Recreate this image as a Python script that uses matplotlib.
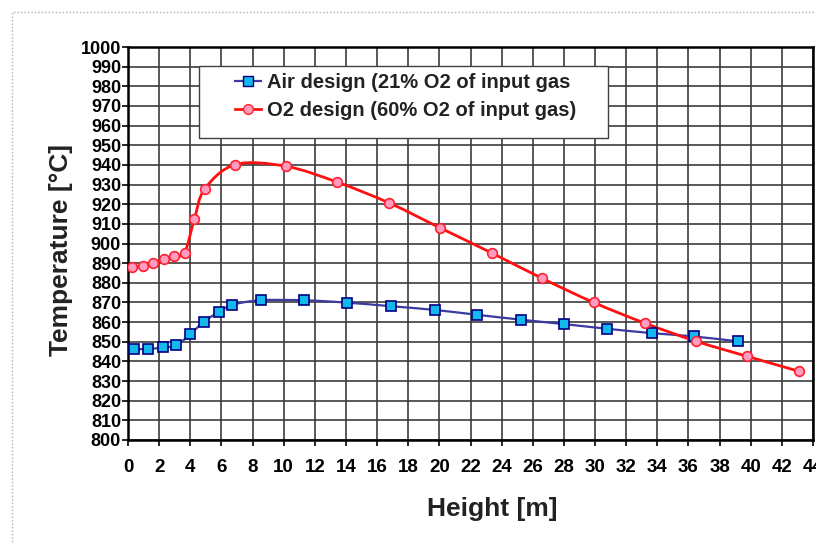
import matplotlib
matplotlib.use("Agg")
import matplotlib.pyplot as plt
from matplotlib.path import Path
from matplotlib.patches import PathPatch, Rectangle
from matplotlib.lines import Line2D
import numpy as np

# datos
air_x = [0.41, 1.28, 2.25, 3.11, 4.01, 4.88, 5.83, 6.71, 8.52, 11.33, 14.07,
         16.87, 19.69, 22.44, 25.27, 27.98, 30.79, 33.63, 36.35, 39.18]
air_y = [846.3, 846.3, 847.1, 848.2, 853.9, 860.3, 865.1, 868.8, 871.1, 871.1, 869.9,
         868.1, 866.2, 863.7, 861.2, 859.0, 856.6, 854.4, 852.7, 850.2]

o2_x = [0.26, 0.96, 1.61, 2.29, 2.95, 3.64, 4.26, 4.93, 6.9, 10.15, 13.45,
        16.79, 20.06, 23.36, 26.59, 29.91, 33.19, 36.51, 39.76, 43.08]
o2_y = [887.8, 888.5, 889.9, 892.1, 893.6, 895.4, 912.3, 927.8, 940.2, 939.3, 931.2,
        920.6, 907.9, 895.2, 882.3, 870.0, 859.5, 850.2, 842.6, 835.0]

air_label = "Air design (21% O2 of input gas"
o2_label = "O2 design (60% O2 of input gas)"

x_ticks = list(range(0, 46, 2))
y_ticks = list(range(800, 1010, 10))

plt.rcParams['font.family'] = ['Liberation Sans', 'DejaVu Sans']
plt.rcParams['font.weight'] = 'bold'

W, H = 816, 543


def linea_suave(x, y):
    # curva tipo Excel (Catmull-Rom pasada a Bezier)
    pts = np.column_stack([x, y])
    n = len(pts)
    verts = [pts[0]]
    codes = [Path.MOVETO]
    for i in range(n - 1):
        p0 = pts[i - 1] if i > 0 else pts[i]
        p1 = pts[i]
        p2 = pts[i + 1]
        p3 = pts[i + 2] if i + 2 < n else pts[i + 1]
        c1 = p1 + (p2 - p0) / 6.0
        c2 = p2 - (p3 - p1) / 6.0
        verts += [c1, c2, p2]
        codes += [Path.CURVE4] * 3
    return Path(verts, codes)


fig = plt.figure(figsize=(W / 100, H / 100), dpi=100)
ax = fig.add_axes([128 / W, 1 - 440 / H, (813 - 128) / W, (440 - 47) / H])

# borde punteado de la figura
fig.patches.append(Rectangle((12 / W, -0.1), 1.2, 1 - 12 / H + 0.1,
                             transform=fig.transFigure, fill=False,
                             ls=(0, (1, 1.5)), lw=1, ec='#b0b0b0'))

ax.add_patch(PathPatch(linea_suave(air_x, air_y), fill=False, ec='#3a3aa0', lw=1.6, zorder=3))
ax.plot(air_x, air_y, ls='none', marker='s', ms=7, mfc='#14b8ec', mec='#000080', mew=1.2, zorder=4)

ax.add_patch(PathPatch(linea_suave(o2_x, o2_y), fill=False, ec='#ff1010', lw=2.0, zorder=3))
ax.plot(o2_x, o2_y, ls='none', marker='o', ms=7, mfc='#ff9cc0', mec='#ff2030', mew=1.2, zorder=4)

ax.set_xlim(0, 44)
ax.set_ylim(800, 1000)
ax.set_xticks(x_ticks)
ax.set_yticks(y_ticks)
ax.grid(True, color='#3c3c3c', lw=1.2)
ax.set_axisbelow(True)
for s in ax.spines.values():
    s.set_linewidth(1.8)
    s.set_color('black')
ax.tick_params(axis='y', direction='out', length=4, width=1.2, labelsize=13, pad=1)
ax.tick_params(axis='x', direction='out', length=4, width=1.2, labelsize=13.5, pad=9.5)

ax.set_xlabel("Height [m]", fontsize=19, fontweight='bold', color='#222222')
ax.set_ylabel("Temperature [°C]", fontsize=19, fontweight='bold', color='#222222')
ax.xaxis.set_label_coords((492 - 128) / (813 - 128), -(497 - 440) / (440 - 47))
ax.yaxis.set_label_coords(-(128 - 73) / (813 - 128), (440 - 250) / (440 - 47))

# caja de la leyenda como en Excel (mas ancha que el texto)
caja = Rectangle((199 / W, 1 - 138 / H), (608 - 199) / W, (138 - 66) / H,
                 transform=fig.transFigure, fc='white', ec='#404040',
                 lw=1.0, zorder=5, clip_on=False)
ax.add_artist(caja)

handles = [
    Line2D([], [], color='#3a3aa0', lw=1.6, marker='s', ms=7, mfc='#14b8ec', mec='#000080'),
    Line2D([], [], color='#ff1010', lw=2.0, marker='o', ms=7, mfc='#ff9cc0', mec='#ff2030'),
]
leg = ax.legend(handles, [air_label, o2_label], loc='upper left',
                bbox_to_anchor=(235 / W, 1 - 73 / H), bbox_transform=fig.transFigure,
                borderaxespad=0, borderpad=0, frameon=False,
                prop={'size': 14.5, 'weight': 'bold'}, handlelength=1.3,
                handletextpad=0.3, labelspacing=0.45)
leg.set_zorder(6)
for t in leg.get_texts():
    t.set_color('#222222')

fig.savefig("out.png", dpi=100)
